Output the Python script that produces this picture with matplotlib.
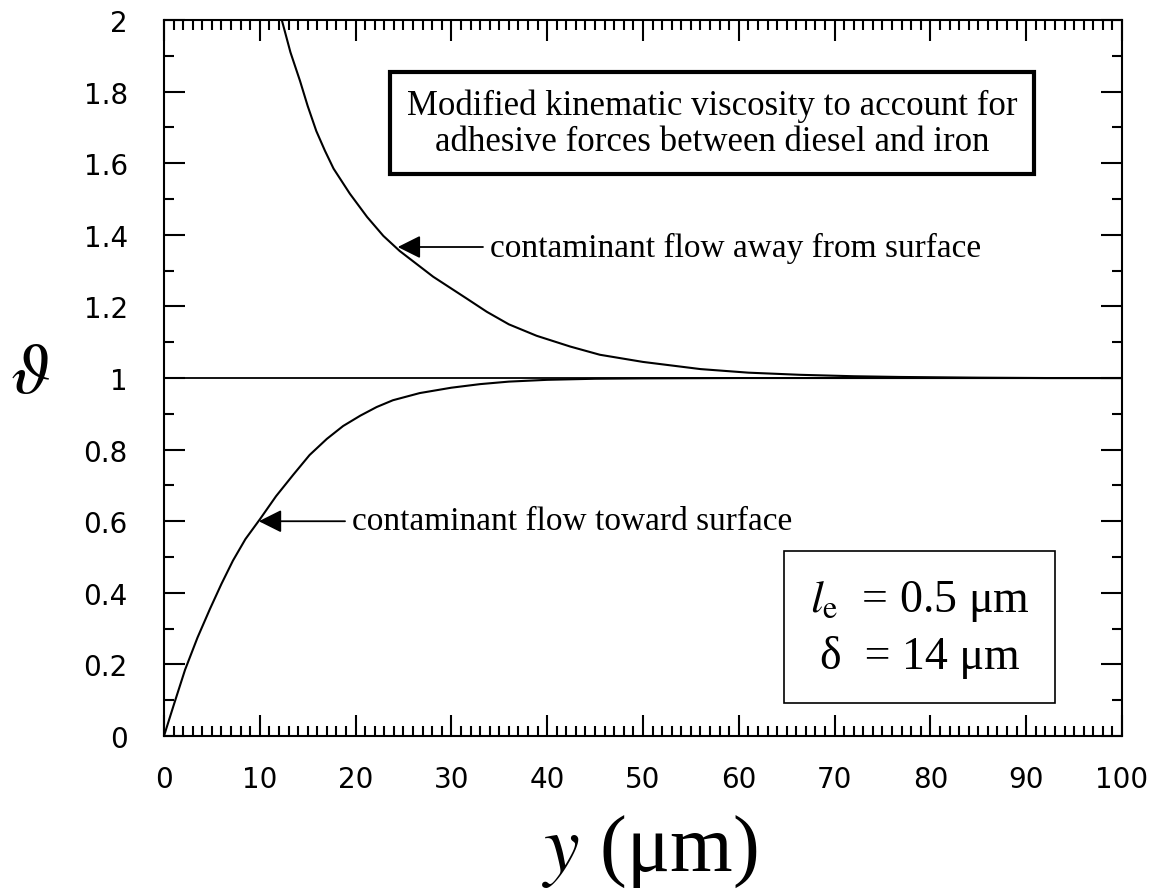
import matplotlib
matplotlib.use('Agg')
import matplotlib.pyplot as plt
from matplotlib.ticker import MultipleLocator

# curve: flow toward the surface (rises to 1)
toward_y = [0, 1, 2.2, 3.5, 4.8, 6, 7.2, 8.5, 10, 11.7, 13.5, 15.2, 17, 18.7, 20.5, 22.2,
            23.9, 26.7, 30, 33, 36, 40, 45, 50, 60, 70, 80, 90, 100]
toward_v = [0, 0.085, 0.185, 0.275, 0.355, 0.425, 0.49, 0.55, 0.605, 0.67, 0.73, 0.785, 0.83,
            0.866, 0.895, 0.919, 0.938, 0.958, 0.973, 0.983, 0.99, 0.995, 0.998, 0.999,
            1.0, 1.0, 1.0, 1.0, 1.0]

# flow away from the surface (decays to 1)
away_y = [12.3, 13.2, 14.2, 15.0, 15.9, 16.8, 17.7, 19.4, 21.2, 22.9, 24.6, 28.1, 31.6, 33.7,
          36, 38.9, 42.4, 45.5, 50, 56, 61, 66.4, 72, 76.8, 85, 92, 100]
away_v = [2.0, 1.91, 1.83, 1.76, 1.69, 1.635, 1.585, 1.515, 1.45, 1.397, 1.355, 1.283, 1.222,
          1.185, 1.15, 1.118, 1.088, 1.065, 1.045, 1.025, 1.015, 1.009, 1.005, 1.003, 1.001,
          1.0, 1.0]

x_ticks = [0, 10, 20, 30, 40, 50, 60, 70, 80, 90, 100]
y_ticks = [0, 0.2, 0.4, 0.6, 0.8, 1, 1.2, 1.4, 1.6, 1.8, 2]
y_ticklabels = ['0', '0.2', '0.4', '0.6', '0.8', '1', '1.2', '1.4', '1.6', '1.8', '2']

plt.rcParams['mathtext.fontset'] = 'stix'
serif = 'Liberation Serif'

fig = plt.figure(figsize=(11.58, 8.95), dpi=100)
ax = fig.add_axes([0.1416, 0.1765, 0.8273, 0.8])

ax.plot(toward_y, toward_v, color='black', lw=1.5)
ax.plot(away_y, away_v, color='black', lw=1.5)
ax.axhline(1.0, color='black', lw=1.3)

ax.set_xlim(0, 100)
ax.set_ylim(0, 2)
ax.set_xticks(x_ticks)
ax.set_yticks(y_ticks)
ax.set_yticklabels(y_ticklabels)
ax.xaxis.set_minor_locator(MultipleLocator(1))
ax.yaxis.set_minor_locator(MultipleLocator(0.1))
ax.tick_params(which='both', direction='in', top=True, right=True, width=1.5,
               labelsize=20, color='black')
ax.tick_params(which='major', length=15)
ax.tick_params(which='minor', length=7)
ax.tick_params(axis='y', which='major', pad=26)
ax.tick_params(axis='x', which='major', pad=21)
for s in ax.spines.values():
    s.set_linewidth(1.5)

# labels
fig.text(30 / 1158, 1 - 373 / 895, r'$\vartheta$', fontsize=52, ha='center', va='center')
fig.text(650 / 1158, 1 - 852 / 895, r'$y$ (μm)', fontsize=58, family=serif,
         ha='center', va='center')

# boxed title inside the plot
ax.text(57.2, 1.712, 'Modified kinematic viscosity to account for\nadhesive forces between diesel and iron',
        fontsize=25, family=serif, ha='center', va='center', linespacing=1.1,
        bbox=dict(boxstyle='square,pad=0.48', fc='white', ec='black', lw=3))

# arrows with labels
arrow = dict(arrowstyle='-|>,head_length=0.7,head_width=0.35', color='black', lw=1.3,
             mutation_scale=20, shrinkA=0, shrinkB=0)
ax.annotate('', xy=(24.4, 1.366), xytext=(33.3, 1.366), arrowprops=arrow)
ax.text(34.0, 1.366, 'contaminant flow away from surface', fontsize=24, family=serif,
        ha='left', va='center')
ax.annotate('', xy=(9.9, 0.60), xytext=(18.9, 0.60), arrowprops=arrow)
ax.text(19.6, 0.60, 'contaminant flow toward surface', fontsize=24, family=serif,
        ha='left', va='center')

# parameter box
ax.text(78.86, 0.302, '$l_\\mathrm{e}$  = 0.5 μm\nδ  = 14 μm', fontsize=33, family=serif,
        ha='center', va='center', linespacing=1.35,
        bbox=dict(boxstyle='square,pad=0.55', fc='white', ec='black', lw=1.2))

fig.savefig('out.png', dpi=100)
